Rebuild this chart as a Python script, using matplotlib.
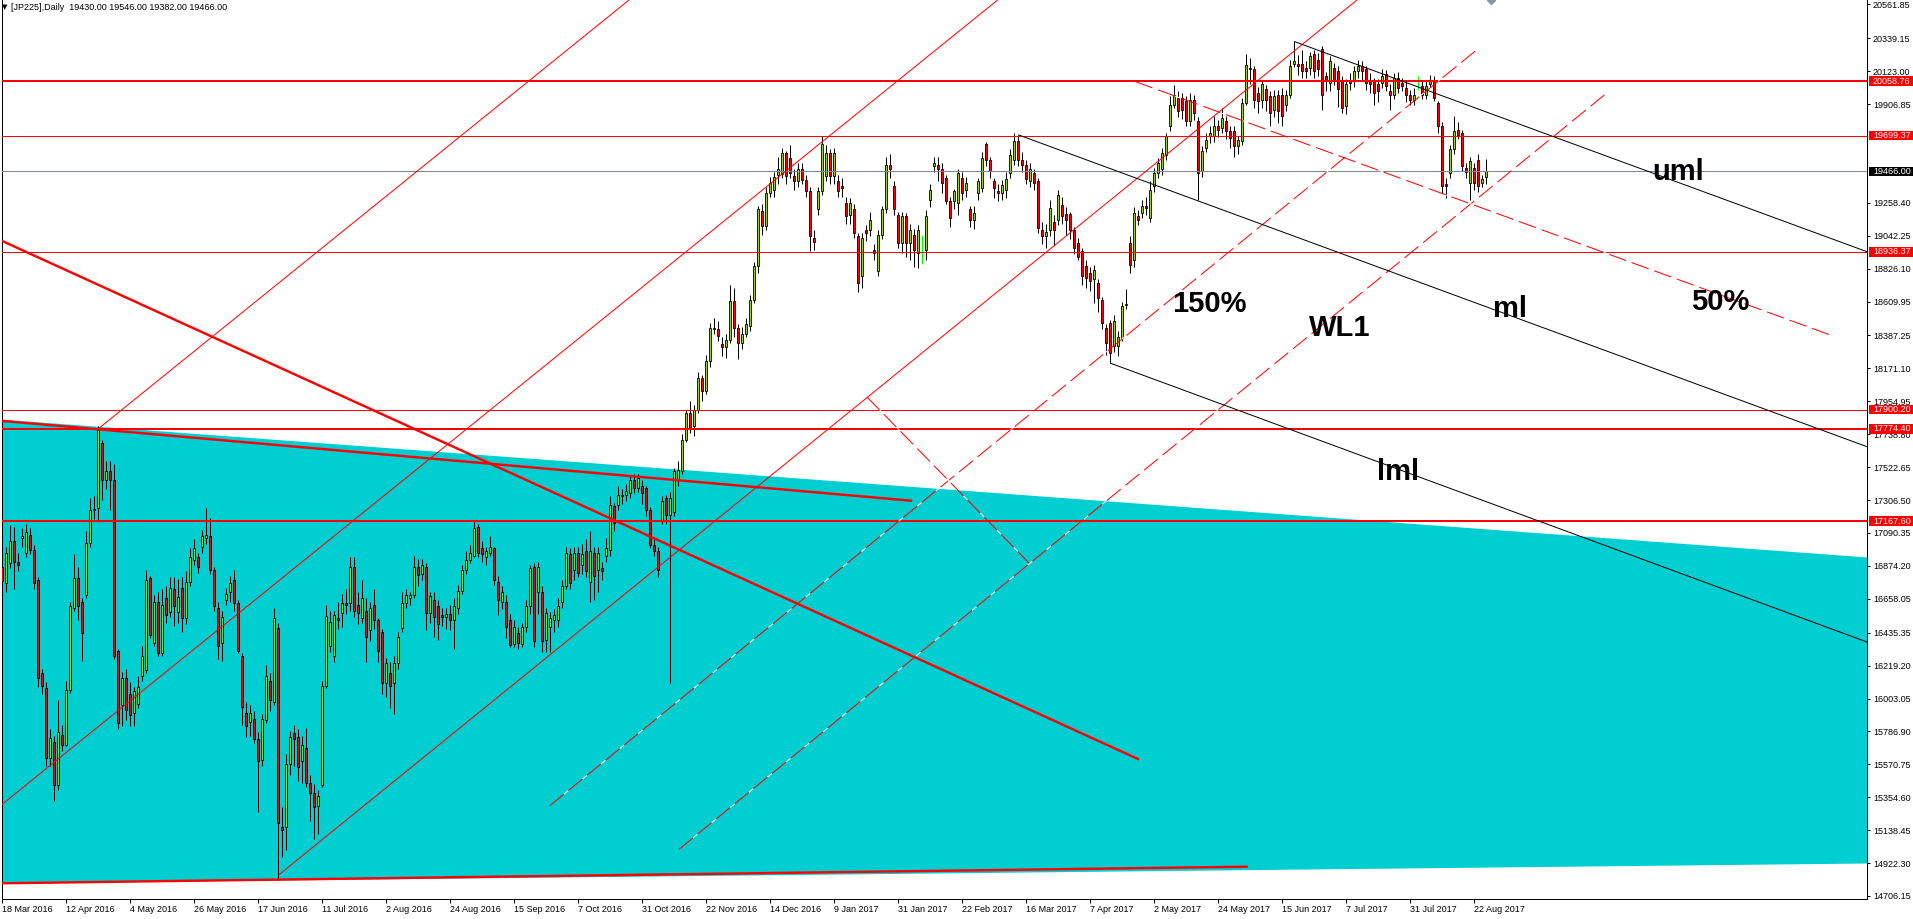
import numpy as np
import matplotlib
matplotlib.use("Agg")
import matplotlib.pyplot as plt
from matplotlib.patches import Rectangle
from matplotlib.transforms import blended_transform_factory

plt.rcParams['font.family'] = ['Liberation Sans', 'DejaVu Sans']
plt.rcParams['lines.scale_dashes'] = False

# daily JP225 candles, bar 0 = 18 Mar 2016
opens = [16870,16760,16893,17040,16900,17060,16960,17080,16980,16780,
         16170,16072,15612,15720,15435,15765,15700,16060,16600,16793,
         16640,16685,17024,17243,17254,17681,17440,17495,17440,16312,
         15960,16140,16030,15910,15970,16150,16190,16793,16370,16640,
         16300,16660,16570,16720,16570,16730,16530,16770,16915,16930,
         17000,17060,17068,16849,16600,16370,16650,16700,16780,16630,
         16280,15910,15850,15870,15740,15600,15860,16120,15980,16465,
         15160,15160,15570,15775,15750,15590,15680,15450,15380,15300,
         15436,16082,16345,16280,16530,16565,16630,16630,16870,16620,
         16530,16575,16450,16620,16520,16440,16104,16170,16104,16235,
         16465,16630,16660,16685,16870,16820,16870,16565,16650,16610,
         16550,16540,16560,16520,16600,16710,16850,16915,16940,17130,
         16990,16935,16960,16990,16770,16640,16640,16520,16360,16430,
         16360,16475,16608,16870,16700,16700,16390,16475,16520,16520,
         16640,16740,16950,16850,16958,16880,16970,16770,16958,16850,
         16860,16940,16980,17265,17276,17330,17342,17352,17440,17385,
         17396,17385,17243,17013,16970,17177,17320,17210,17230,17440,
         17495,17703,17880,17790,17900,18110,18020,18220,18436,18430,
         18330,18310,18360,18612,18437,18340,18400,18450,18623,18842,
         19204,19105,19324,19340,19440,19445,19587,19550,19434,19400,
         19478,19410,19335,19030,19215,19335,19434,19587,19434,19400,
         19367,19258,19180,19215,19039,18776,19083,19083,18952,18810,
         19050,19215,19510,19367,19180,18995,19171,18995,19050,18930,
         18952,18952,19280,19499,19510,19478,19420,19270,19270,19258,
         19420,19346,19215,19149,19324,19357,19642,19543,19400,19335,
         19324,19340,19455,19543,19664,19543,19510,19400,19455,19400,
         19083,19040,19083,19130,19149,19247,19182,19182,19083,18995,
         18940,18842,18800,18760,18733,18623,18437,18470,18316,18316,
         18370,18590,18995,18886,19171,19193,19237,19160,19367,19455,
         19478,19576,19762,19904,19950,19950,19926,19795,19937,19795,
         19466,19620,19696,19700,19762,19750,19795,19730,19730,19630,
         19663,19915,20146,20135,19980,19937,20003,19960,19870,19970,
         19970,19904,19970,20168,20168,20168,20146,20146,20233,20200,
         20266,20091,20047,20146,20123,20068,19893,20068,20058,20124,
         20157,20135,20068,20068,20036,20047,20102,19992,19970,20080,
         20047,20014,19970,19937,20036,20025,19970,20036,20068,19915,
         19762,19380,19456,19609,19740,19718,19488,19390,19488,19543,
         19390,19430]
highs = [16930,17000,17140,17130,16960,17120,17150,17120,17010,16800,
         16200,16110,15800,15760,15990,15830,16120,16640,16950,16870,
         16660,17100,17320,17330,17791,17700,17560,17560,17540,16330,
         16180,16200,16110,16080,16150,16350,16850,16810,16680,16700,
         16720,16740,16800,16800,16790,16800,16840,16990,17050,16960,
         17110,17254,17190,16870,16640,16580,16730,16810,16850,16650,
         16300,15980,15960,15920,15780,15900,16220,16170,16600,16500,
         15290,15640,15790,15830,15800,15760,15810,15500,15440,15400,
         16120,16620,16580,16580,16640,16690,16720,16930,16930,16700,
         16780,16660,16640,16720,16530,16460,16270,16240,16280,16440,
         16700,16720,16700,16940,16920,16920,16890,16700,16700,16650,
         16600,16600,16620,16660,16750,16880,16970,17010,17166,17150,
         17040,17000,17070,17000,16810,16740,16680,16560,16520,16470,
         16500,16650,16880,16890,16900,16740,16600,16570,16590,16660,
         16780,17000,16990,17000,17000,17020,17050,17100,17000,17000,
         16900,17060,17330,17290,17400,17380,17410,17470,17480,17480,
         17440,17400,17260,17060,17000,17330,17340,17360,17520,17560,
         17740,17900,17960,17930,18150,18130,18260,18470,18500,18480,
         18380,18400,18720,18700,18460,18440,18500,18650,18870,19240,
         19250,19360,19430,19460,19560,19620,19600,19640,19480,19520,
         19520,19440,19360,19080,19360,19700,19640,19610,19620,19440,
         19420,19300,19290,19250,19060,19060,19110,19200,18990,19080,
         19240,19560,19580,19400,19200,19200,19190,19120,19090,19110,
         19050,19210,19380,19560,19560,19520,19440,19300,19350,19480,
         19460,19430,19240,19240,19420,19590,19660,19560,19420,19380,
         19410,19460,19610,19720,19705,19590,19540,19520,19480,19420,
         19130,19120,19280,19180,19340,19300,19230,19200,19100,19030,
         18960,18880,18840,18850,18760,18640,18460,18490,18520,18420,
         18610,18690,19040,19230,19210,19280,19300,19400,19490,19550,
         19620,19720,19960,20030,19990,19980,19960,19980,19970,19820,
         19630,19720,19760,19830,19800,19880,19830,19760,19760,19700,
         19950,20233,20210,20160,20020,20060,20030,19990,20000,20000,
         20010,20000,20200,20320,20230,20260,20190,20250,20260,20240,
         20290,20120,20220,20180,20160,20090,20070,20110,20160,20200,
         20190,20160,20110,20080,20070,20140,20130,20040,20110,20120,
         20080,20050,20000,20010,20090,20060,20060,20100,20090,19930,
         19790,19420,19640,19830,19790,19740,19520,19560,19520,19580,
         19440,19546]
lows = [16564,16700,16860,16720,16840,17000,16930,16950,16720,16080,
        16030,15560,15560,15327,15400,15660,15690,16040,16580,16520,
        16250,16660,17000,17180,17160,17310,17380,17240,16260,15800,
        15820,15860,15820,15820,15940,16120,16170,16400,16350,16280,
        16280,16500,16540,16480,16500,16440,16490,16740,16880,16830,
        16960,17020,16820,16580,16260,16250,16620,16640,16580,16300,
        15830,15750,15760,15710,15260,15560,15840,15920,15960,14811,
        14960,15010,15500,15560,15460,15450,15420,15200,15080,15110,
        15420,16070,16310,16240,16460,16470,16560,16580,16540,16490,
        16500,16240,16380,16460,16240,16030,16010,15940,15900,16200,
        16440,16600,16620,16660,16740,16780,16450,16500,16410,16390,
        16480,16460,16450,16330,16560,16690,16820,16890,16930,16930,
        16900,16880,16940,16750,16550,16590,16400,16340,16340,16330,
        16340,16440,16560,16340,16560,16310,16310,16310,16440,16470,
        16600,16720,16720,16780,16800,16820,16800,16640,16650,16700,
        16780,16900,16940,17100,17240,17280,17300,17320,17350,17360,
        17280,17200,16990,16940,16800,17150,17150,16104,17200,17400,
        17480,17690,17750,17730,17880,17960,18000,18180,18400,18350,
        18250,18240,18340,18380,18230,18300,18380,18420,18600,18800,
        19050,19080,19300,19300,19380,19420,19380,19420,19340,19360,
        19380,19300,18940,18950,19180,19310,19400,19380,19380,19300,
        19300,19120,19120,19030,18670,18700,19010,19040,18880,18780,
        19020,19190,19420,19180,18960,18930,18900,18880,18840,18830,
        18860,18880,19230,19460,19400,19320,19250,19100,19220,19180,
        19280,19300,19100,19090,19280,19330,19500,19420,19290,19270,
        19280,19290,19420,19510,19500,19460,19380,19360,19340,19060,
        18990,18960,19040,18980,19110,19120,19050,19020,18920,18880,
        18720,18700,18680,18600,18540,18430,18260,18207,18280,18250,
        18350,18560,18800,18840,19110,19160,19180,19130,19330,19420,
        19440,19540,19730,19880,19820,19810,19760,19760,19800,19280,
        19430,19590,19650,19660,19690,19720,19680,19620,19560,19580,
        19640,19900,20040,19880,19850,19880,19860,19760,19820,19780,
        19760,19860,19950,20150,20100,20080,20080,20100,20080,20090,
        19870,19990,19990,20030,19890,19850,19840,20000,20020,20080,
        20060,20000,19980,19900,19920,20010,19990,19870,19940,19980,
        19990,19920,19900,19900,20000,19940,19940,20020,19930,19720,
        19320,19290,19420,19580,19680,19470,19420,19280,19340,19330,
        19360,19382]
closes = [16772,16958,17035,16900,16880,17070,17094,16980,16761,16137,
          16082,15612,15742,15435,15786,15700,16060,16608,16793,16608,
          16432,17024,17243,17250,17769,17440,17495,17440,16280,15841,
          16137,15930,15895,16050,16080,16280,16783,16420,16640,16300,
          16620,16550,16730,16610,16670,16530,16770,16935,16990,16870,
          17068,17080,16849,16608,16345,16540,16690,16760,16630,16312,
          15950,15820,15905,15740,15590,15870,16150,15990,16530,15185,
          15140,15570,15750,15740,15555,15700,15450,15380,15290,15360,
          16082,16542,16508,16553,16520,16630,16620,16870,16575,16565,
          16660,16410,16597,16520,16312,16104,16235,16082,16235,16410,
          16630,16685,16685,16870,16815,16880,16565,16675,16540,16490,
          16540,16560,16520,16610,16710,16850,16915,16960,17122,16958,
          16950,16970,17000,16783,16650,16705,16475,16355,16475,16370,
          16475,16608,16860,16380,16870,16380,16565,16530,16550,16608,
          16740,16958,16760,16958,16830,16950,16840,16970,16805,16958,
          16840,16990,17276,17155,17342,17342,17364,17440,17385,17450,
          17352,17243,17013,16970,16849,17300,17210,17320,17495,17506,
          17703,17880,17780,17900,18110,18020,18220,18436,18430,18385,
          18310,18360,18612,18437,18340,18400,18460,18623,18842,19215,
          19105,19324,19390,19430,19478,19587,19434,19457,19400,19478,
          19410,19335,19039,19000,19335,19642,19587,19434,19587,19335,
          19357,19171,19258,19061,18733,19028,19061,19149,18930,19050,
          19215,19510,19478,19215,18995,19171,18995,19083,18952,19083,
          18952,19171,19346,19521,19478,19390,19270,19160,19335,19455,
          19324,19390,19149,19193,19400,19554,19543,19466,19357,19324,
          19378,19412,19576,19664,19543,19510,19412,19478,19390,19094,
          19040,19070,19226,19083,19313,19171,19149,19083,18963,18900,
          18776,18766,18744,18820,18634,18470,18338,18273,18480,18380,
          18579,18592,18853,19193,19149,19237,19226,19346,19455,19521,
          19587,19696,19904,19970,19860,19870,19795,19937,19850,19456,
          19598,19674,19720,19762,19740,19817,19730,19685,19630,19674,
          19915,20167,20135,19937,19926,20036,19937,19850,19960,19860,
          19828,19970,20157,20190,20157,20124,20124,20222,20124,20135,
          19970,20058,20189,20058,20003,19882,20036,20047,20124,20157,
          20124,20047,20036,19981,19992,20091,20025,19970,20080,20014,
          20025,19970,19937,19970,20036,19970,20025,20068,19948,19762,
          19368,19370,19609,19730,19707,19499,19460,19532,19390,19368,
          19412,19466]

date_labels = ["18 Mar 2016", "12 Apr 2016", "4 May 2016", "26 May 2016", "17 Jun 2016",
               "11 Jul 2016", "2 Aug 2016", "24 Aug 2016", "15 Sep 2016", "7 Oct 2016",
               "31 Oct 2016", "22 Nov 2016", "14 Dec 2016", "9 Jan 2017", "31 Jan 2017",
               "22 Feb 2017", "16 Mar 2017", "7 Apr 2017", "2 May 2017", "24 May 2017",
               "15 Jun 2017", "7 Jul 2017", "31 Jul 2017", "22 Aug 2017"]
bars_per_label = 16

price_ticks = [20561.85, 20339.15, 20123.00, 19906.85, 19258.40, 19042.25, 18826.10,
               18609.95, 18387.25, 18171.10, 17954.95, 17738.80, 17522.65, 17306.50,
               17090.35, 16874.20, 16658.05, 16435.35, 16219.20, 16003.05, 15786.90,
               15570.75, 15354.60, 15138.45, 14922.30, 14706.15]

# horizontal levels: (price, thick?)
levels = [(20058.76, True), (19699.37, False), (18936.37, False),
          (17900.20, False), (17774.40, True), (17167.60, True)]
last_price = 19466.00

# drawn objects, endpoints as (bar, price)
channel_x = [-0.5, 466.25]
channel_top = [17838.8, 16932.4]
channel_bottom = [14791.3, 14922.6]

thick_red_lines = [[(-0.5, 19014.5), (284.0, 15605.7)],
                   [(-0.5, 17827.6), (227.25, 17302.2)],
                   [(-0.5, 14789.3), (311.15, 14898.3)]]
thin_red_lines = [[(24.0, 17773.1), (156.75, 20590.8)],
                  [(-0.5, 15297.0), (248.9, 20590.8)],
                  [(69.15, 14843.8), (338.75, 20590.8)]]
dashed_red_lines = [[(136.95, 15299.0), (369.25, 20275.5)],
                    [(169.25, 15012.7), (401.5, 19986.5)],
                    [(283.4, 20054.2), (457.75, 18384.0)],
                    [(216.25, 17983.3), (256.75, 16893.0)]]
black_lines = [[(254.2, 19704.1), (466.25, 17656.9)],   # ml
               [(323.2, 20316.9), (466.25, 18937.6)],   # uml
               [(277.2, 18204.6), (466.25, 16374.1)]]   # lml

labels = [("uml", 419.0, 19461), ("50%", 429.5, 18607), ("ml", 377.0, 18561),
          ("150%", 301.75, 18594), ("WL1", 334.5, 18436), ("lml", 349.0, 17491)]

W, H = 1913, 919
PX = 0.72  # one pixel in points

fig = plt.figure(figsize=(W / 100, H / 100), dpi=100)
fig.patch.set_facecolor("white")
ax = fig.add_axes([1.5 / W, 20 / H, (1867 - 1.5) / W, 899 / H])
ax.set_xlim(-0.125, 466.25)
ax.set_ylim(14686.2, 20590.8)

ax.fill_between(channel_x, channel_top, channel_bottom, color="#00ced1", lw=0, zorder=1)

o = np.array(opens, float)
h = np.array(highs, float)
l = np.array(lows, float)
c = np.array(closes, float)
x = np.arange(len(c))

doji = o == c
wick_col = np.where(doji, "#00ff00", "black")
ax.vlines(x, l, h, colors=wick_col, lw=PX, zorder=3)
body = ~doji
body_col = np.where(c > o, "#9acd32", "#ff0000")
ax.bar(x[body], (c - o)[body], bottom=o[body], width=0.55, color=body_col[body],
       edgecolor="black", linewidth=0.6, zorder=3.5)

for lv, thick in levels:
    ax.axhline(lv, color="#ff0000", lw=2 * PX if thick else PX, zorder=5)
ax.axhline(last_price, color="#778899", lw=PX, zorder=5)

for seg in thick_red_lines:
    xs, ys = zip(*seg)
    ax.plot(xs, ys, color="#ff0000", lw=2.4 * PX, zorder=5)
for seg in thin_red_lines:
    xs, ys = zip(*seg)
    ax.plot(xs, ys, color="#ff0000", lw=PX, zorder=5)
for seg in dashed_red_lines:
    xs, ys = zip(*seg)
    ax.plot(xs, ys, color="#ff0000", lw=PX, dashes=(18 * PX, 6 * PX),
            gapcolor="white", zorder=5)
for seg in black_lines:
    xs, ys = zip(*seg)
    ax.plot(xs, ys, color="black", lw=PX, zorder=5)

for txt, bx, by in labels:
    ax.text(bx, by, txt, fontsize=21, fontweight="bold", ha="center", va="center",
            color="black", zorder=6)

# little grey marker cut by the top edge
ax.plot(372.25, 20590.8, marker="D", ms=4, color="#8c96a0", zorder=6)

# axes look
for side in ["left", "bottom", "right"]:
    ax.spines[side].set_linewidth(PX)
    ax.spines[side].set_color("black")
ax.spines["top"].set_visible(False)

ax.yaxis.tick_right()
ax.set_yticks(price_ticks)
ax.set_yticklabels([f"{v:.2f}" for v in price_ticks])
ax.tick_params(axis="y", direction="out", length=3 * PX, width=PX, pad=3 * PX,
               labelsize=6.5, colors="black")

ax.set_xticks(np.arange(len(date_labels)) * bars_per_label)
ax.set_xticklabels(date_labels, ha="left")
ax.tick_params(axis="x", direction="out", length=4 * PX, width=PX, pad=2 * PX,
               labelsize=6.5)

# price tags on the right scale
tr = blended_transform_factory(ax.transAxes, ax.transData)
ax_w = 1867 - 1.5
units_per_px = (20590.8 - 14686.2) / 899
tags = [(lv, "#ff0000") for lv, _ in levels] + [(last_price, "black")]
for lv, col in tags:
    ax.add_patch(Rectangle(((1869 - 1.5) / ax_w - 1 + 1, lv - 4.7 * units_per_px),
                           44 / ax_w, 9.4 * units_per_px, transform=tr,
                           facecolor=col, edgecolor="none", clip_on=False, zorder=10))
    ax.text((1873 - 1.5) / ax_w, lv, f"{lv:.2f}", transform=tr, ha="left", va="center",
            color="white", fontsize=6.5, clip_on=False, zorder=11)

# header line
fig.text(5 / W, 1 - 7 / H, "\u25bc", fontsize=5, family="DejaVu Sans",
         ha="center", va="center")
fig.text(11 / W, 1 - 7 / H,
         f"[JP225],Daily  {opens[-1]:.2f} {highs[-1]:.2f} {lows[-1]:.2f} {closes[-1]:.2f}",
         fontsize=6.5, ha="left", va="center")

fig.savefig("out.png", dpi=100, facecolor="white")
